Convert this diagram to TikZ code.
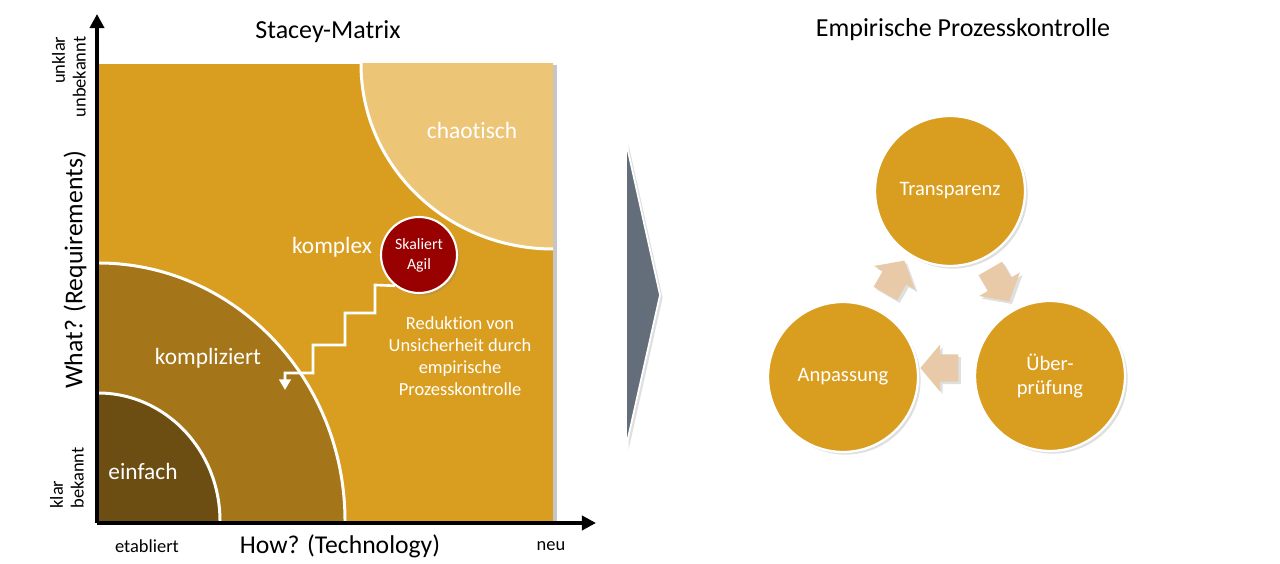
\documentclass[tikz,border=0pt]{standalone}
\usepackage{fontspec}
\setmainfont{Carlito}[Ligatures={NoCommon}]
\usetikzlibrary{arrows.meta, positioning, shapes.arrows, shadows}
\definecolor{cgold}{HTML}{D99E1F}
\definecolor{cbrown}{HTML}{A47519}
\definecolor{cdark}{HTML}{6C4D12}
\definecolor{clight}{HTML}{EDC576}
\definecolor{cred}{HTML}{990000}
\definecolor{ctan}{HTML}{E8CAA9}
\definecolor{cslate}{HTML}{646D7A}
\tikzset{
  every picture/.style={line width=1.2pt},
  softshadow/.style={drop shadow={opacity=0.25, shadow xshift=1.5pt, shadow yshift=-1.5pt}},
  title/.style={font=\fontsize{14.8}{17}\selectfont},
  axis/.style={draw=black, line width=2.3pt, -{Triangle[length=8pt, width=8pt]}},
  axlabel/.style={font=\fontsize{14.6}{17}\selectfont},
  tick/.style={font=\fontsize{10.5}{11.8}\selectfont},
  zone/.style={text=white, font=\fontsize{13.3}{16}\selectfont},
  border/.style={draw=white, line width=1.7pt},
  note/.style={text=white, align=center, font=\fontsize{10.5}{12.5}\selectfont},
  stair/.style={draw=white, line width=1.5pt, -{Triangle[length=6pt, width=6.5pt]}},
  agil/.style={circle, draw=white, fill=cred, line width=1.2pt, minimum size=1.52cm, inner sep=0pt,
    text=white, align=center, font=\fontsize{9}{11.3}\selectfont, softshadow},
  cyclebox/.style={circle, fill=cgold, draw=white, line width=1.3pt, minimum size=3cm, inner sep=0pt,
    text=white, align=center, font=\fontsize{11.7}{13.6}\selectfont, softshadow},
  cyclearrow/.style={single arrow, fill=ctan, draw=none, inner xsep=0pt, inner ysep=0.25cm,
    minimum height=0.76cm, single arrow head extend=0.2cm, single arrow tip angle=100, softshadow},
}

\begin{document}
\begin{tikzpicture}[x=0.02cm, y=0.02cm]
  \useasboundingbox (0,0) rectangle (1280,564);

  % Stacey matrix
  \fill[cgold, drop shadow={opacity=0.45, shadow xshift=2pt, shadow yshift=-0.5pt}] (98,43) rectangle (553,500);
  \begin{scope}
    \clip (98,43) rectangle (553,500);
    \fill[clight] (553,500) ellipse [x radius=192, y radius=185];
    \draw[border] (553,500) ellipse [x radius=192, y radius=185];
    \fill[cbrown] (98,43) ellipse [x radius=247, y radius=258];
    \draw[border] (98,43) ellipse [x radius=247, y radius=258];
    \fill[cdark] (98,43) ellipse [x radius=122, y radius=128];
    \draw[border] (98,43) ellipse [x radius=122, y radius=128];
  \end{scope}

  \node[zone] (chaos) at (472,434) {chaotisch};
  \node[zone] (cplx) at (332,317) {komplex};
  \node[zone] (cmpl) at (208,206) {kompliziert};
  \node[zone] (easy) at (143,93) {einfach};
  \node[agil] (skal) at (419,309) {Skaliert\\Agil};
  \node[note] (redu) at (460,208) {Reduktion von\\Unsicherheit durch\\empirische\\Prozesskontrolle};

  \coordinate (stairend) at (285,174);
  \draw[stair] (skal.232) -- (375,279) -- ++(0,-28) -- ++(-30,0) -- ++(0,-32) -- ++(-32,0)
    -- ++(0,-28) -- (285,191) -- (stairend);

  % axes
  \coordinate (orig) at (97,41);
  \coordinate (ytip) at (97,550);
  \coordinate (xtip) at (596,41);
  \draw[axis] (orig) -- (ytip);
  \draw[axis] (orig) -- (xtip);
  \node[axlabel, rotate=90] (what) at (75,294) {What? (Requirements)};
  \node[tick, rotate=90, align=right] (unk) at (69,487) {unklar\\unbekannt};
  \node[tick, rotate=90, align=left] (kno) at (67,86) {klar\\bekannt};
  \node[tick] (etab) at (147,18) {etabliert};
  \node[axlabel] (how) at (340,18) {How? (Technology)};
  \node[tick] (neu) at (551,18) {neu};
  \node[title] (lefttitle) at (328,532) {Stacey-Matrix};

  % chevron
  \draw[fill=cslate, draw=white, line width=1pt, softshadow] (626,422) -- (660,269) -- (626,117) -- cycle;

  % cycle
  \node[title] (righttitle) at (963,534) {Empirische Prozesskontrolle};
  \foreach \n/\x/\y/\t in {tra/950/373/Transparenz, ueb/1050/188/Über-\\prüfung, anp/843/187/Anpassung} {
    \node[cyclebox] (\n) at (\x,\y) {\t};
  }
  \foreach \n/\x/\y/\r in {a1/892/282/60, a2/997/284/-60, a3/945/196/180} {
    \node[cyclearrow, rotate=\r] (\n) at (\x,\y) {};
  }
\end{tikzpicture}
\end{document}
